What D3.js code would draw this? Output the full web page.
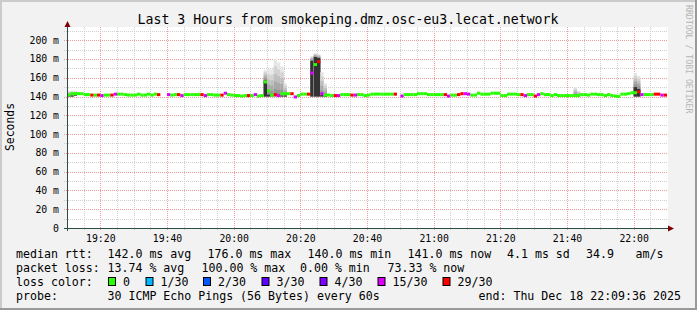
<!DOCTYPE html>
<html>
<head>
<meta charset="utf-8">
<script src="https://cdn.jsdelivr.net/npm/d3@7"></script>
<style>
	body { margin: 0; background: #f2f2f2; }
	svg { display: block; }
	text { font-family: "DejaVu Sans Mono", monospace; fill: #000; }
</style>
</head>
<body>
<svg id="chart" width="697" height="310"></svg>
<script>
// ── Data ──────────────────────────────────────────────────────────────────────
// one sample per minute, 19:10 → 22:10
const medianMs = [
	141.5, 143, 143, 143, 143, 142, 142, 141.5, 141.5, 141.5,
	141, 141.5, 141.5, 141.5, 142.5, 142.5, 142.5, 142, 141.5, 141.5,
	141.5, 142.5, 141.5, 141.5, 142.5, 141.5, 142.5, 142, null, null,
	142, 141.5, 142, 142, 141, 142, 142, 142, 142, 142,
	142, 141, 142, 142, 141.5, 141.5, 141.5, 143.5, 142, 141.5,
	141, 141, 140.5, 141, 141, 141, 142, 140.5, 141, 155.5,
	146, 141.5, 142, 141, 143, 143, 143, 143, 139.5, 141,
	142.5, 142.5, 142.5, 165, 174, 177, 143, 141.5, 141.5, 141,
	141, 141, 142, 142, 142, 141.5, 141.5, 142, 142, 141,
	141.5, 142.5, 142.5, 142.5, 142.5, 142.5, 142.5, 142.5, 142.5, null,
	140.5, 142, 142, 142, 142, 143, 143, 143, 142, 142,
	142, 142, 142, 142, 140.5, 141.5, 141.5, 142, 143, 143,
	142.5, 141.5, 141.5, 143.5, 142.5, 142.5, 142.5, 143.5, 143.5, 143.5,
	141, 141, 142.5, 142.5, 142.5, 142, 142, 141, 142, 142,
	140.5, 142, 143, 142, 142, 141, 142, 141, 141, 141,
	141, 141, 141, 141, 142, 142, 141.5, 142.5, 142.5, 142,
	142, 141, 142, 141, 140.5, 140, 142.5, 142.5, 143, 144,
	144, 145, 142, 142, 142, 142, 142.5, 142.5, 141.5, 141.5
];
const lossCount = [
	0, 0, 0, 0, 0, 0, 0, 29, 0, 29,
	15, 0, 0, 29, 15, 0, 0, 0, 0, 0,
	0, 0, 0, 0, 0, 0, 0, 29, null, null,
	15, 0, 0, 29, 15, 0, 0, 0, 0, 0,
	29, 15, 0, 0, 0, 0, 29, 15, 0, 0,
	0, 0, 0, 0, 29, 0, 15, 0, 0, 0,
	0, 0, 29, 15, 0, 0, 0, 29, 15, 0,
	0, 0, 29, 15, 0, 29, 15, 0, 0, 0,
	29, 15, 0, 0, 0, 29, 15, 0, 0, 0,
	0, 0, 0, 0, 0, 0, 0, 0, 29, null,
	15, 0, 0, 0, 0, 0, 0, 0, 0, 0,
	0, 0, 0, 29, 15, 0, 0, 29, 29, 15,
	15, 0, 0, 0, 0, 0, 0, 0, 0, 0,
	0, 0, 0, 0, 0, 0, 29, 15, 0, 0,
	29, 15, 0, 0, 0, 0, 0, 0, 0, 0,
	0, 0, 0, 0, 0, 0, 0, 0, 0, 0,
	0, 0, 0, 0, 0, 0, 0, 0, 0, 0,
	0, 29, 15, 0, 0, 0, 29, 29, 15, 29
];

// smoke: minute index, lowest ping, top of dense core, highest ping
const smokeStep = [0, 1, 2, 59, 60, 61, 62, 63, 64, 65, 73, 74, 75, 76, 77, 152, 153, 170, 171];
const smokeLo   = [140, 140, 141, 140, 140, 140, 140, 140, 140, 140, 140, 140, 140, 140, 140, 141, 141, 140, 140];
const smokeCore = [141, 141, 142, 157, 142, 140, 140, 140, 141, 141, 178, 182, 181, 142, 141, 141, 141, 150, 148];
const smokeHi   = [146, 146, 146, 168, 169, 169, 180, 176, 172, 154, 183, 186, 185, 166, 154, 150, 146, 165, 162];

const lossSteps  = [0, 1, 2, 3, 4, 15, 29];
const lossLabels = ['0', '1/30', '2/30', '3/30', '4/30', '15/30', '29/30'];
const lossColors = ['#26ff00', '#00b8ff', '#0059ff', '#5e00ff', '#7e00ff', '#dd00ff', '#ff0000'];

const yTicks = [0, 20, 40, 60, 80, 100, 120, 140, 160, 180, 200];

const legendRows = [
	[['median rtt:', 16], ['142.0 ms avg', 107.5], ['176.0 ms max', 207.5], ['140.0 ms min', 307.5],
	 ['141.0 ms now', 407.5], ['4.1 ms sd', 507], ['34.9', 586], ['am/s', 635.5]],
	[['packet loss:', 16], ['13.74 % avg', 107.5], ['100.00 % max', 201.5], ['0.00 % min', 300],
	 ['73.33 % now', 387.5]],
	[['loss color:', 16]],
	[['probe:', 16], ['30 ICMP Echo Pings (56 Bytes) every 60s', 107.5], ['end: Thu Dec 18 22:09:36 2025', 478.5]]
];
const lossSwatchX = [108, 145.5, 203, 261.5, 319.5, 377.5, 442.5];

// ── Layout ────────────────────────────────────────────────────────────────────
const W = 697, H = 310;
const plot = { left: 67, right: 667, top: 27, bottom: 228 };
const start = new Date(2025, 11, 18, 19, 10);
const end   = new Date(2025, 11, 18, 22, 10);
const stepTime = i => d3.timeMinute.offset(start, i);

const x = d3.scaleTime().domain([start, end]).range([plot.left, plot.right]);
const y = d3.scaleLinear().domain([0, 214]).range([plot.bottom, plot.top]);

const svg = d3.select('#chart');

// ── Frame ─────────────────────────────────────────────────────────────────────
svg.append('rect').attr('width', W).attr('height', H).attr('fill', '#f2f2f2');
svg.append('rect').attr('x', 0).attr('y', 0).attr('width', W).attr('height', 2).attr('fill', '#cbcbcb');
svg.append('rect').attr('x', 0).attr('y', 0).attr('width', 2).attr('height', H).attr('fill', '#cbcbcb');
svg.append('rect').attr('x', W - 2).attr('y', 0).attr('width', 2).attr('height', H).attr('fill', '#999');
svg.append('rect').attr('x', 0).attr('y', H - 2).attr('width', W).attr('height', 2).attr('fill', '#999');

svg.append('rect')
	.attr('x', plot.left).attr('y', plot.top)
	.attr('width', plot.right - plot.left + 1).attr('height', plot.bottom - plot.top)
	.attr('fill', '#fff');

// ── Grid ──────────────────────────────────────────────────────────────────────
const gridG = svg.append('g');
const minorX = d3.timeMinute.every(5).range(d3.timeMinute.offset(start, 1), end);
gridG.selectAll('.vgrid').data(minorX).join('line')
	.attr('x1', d => Math.round(x(d)) + 0.5).attr('x2', d => Math.round(x(d)) + 0.5)
	.attr('y1', plot.top).attr('y2', plot.bottom + 3)
	.attr('stroke', d => d.getMinutes() % 20 === 0 ? '#f19c9c' : '#cfcfcf')
	.attr('stroke-dasharray', '1,1');

const minorY = d3.range(10, 211, 10);
gridG.selectAll('.hgrid').data(minorY).join('line')
	.attr('x1', plot.left - 3).attr('x2', plot.right + 1)
	.attr('y1', d => Math.round(y(d)) + 0.5).attr('y2', d => Math.round(y(d)) + 0.5)
	.attr('stroke', d => d % 20 === 0 ? '#f19c9c' : '#cfcfcf')
	.attr('stroke-dasharray', '1,1');

// ── Smoke ─────────────────────────────────────────────────────────────────────
const smokeShades = ['#e6e6e6', '#d2d2d2', '#bebebe', '#a9a9a9', '#959595'];
const smokeG = svg.append('g');
smokeStep.forEach((s, j) => {
	const x0 = x(stepTime(s)), x1 = x(stepTime(s + 1));
	const lo = smokeLo[j], core = smokeCore[j], hi = smokeHi[j];
	smokeShades.forEach((c, k) => {
		const top = hi - (hi - core) * k / smokeShades.length;
		smokeG.append('rect')
			.attr('x', x0).attr('width', x1 - x0)
			.attr('y', y(top)).attr('height', y(lo) - y(top))
			.attr('fill', c);
	});
	if (core > lo) {
		smokeG.append('rect')
			.attr('x', x0).attr('width', x1 - x0)
			.attr('y', y(core)).attr('height', y(lo) - y(core))
			.attr('fill', '#333');
	}
});

// ── Median ────────────────────────────────────────────────────────────────────
const lossColor = n => {
	let c = lossColors[0];
	lossSteps.forEach((t, i) => { if (n >= t) c = lossColors[i]; });
	return c;
};
const medianData = medianMs.map((v, i) => ({ i, v, loss: lossCount[i] })).filter(d => d.v != null);
svg.append('g').selectAll('rect').data(medianData).join('rect')
	.attr('x', d => x(stepTime(d.i)))
	.attr('width', d => x(stepTime(d.i + 1)) - x(stepTime(d.i)))
	.attr('y', d => y(d.v) - 1.5)
	.attr('height', 3)
	.attr('fill', d => lossColor(d.loss));

// ── Axes ──────────────────────────────────────────────────────────────────────
const axisColor = '#2c4d43';
const arrowColor = '#7f0000';
svg.append('line')
	.attr('x1', plot.left - 3).attr('x2', plot.right + 3)
	.attr('y1', plot.bottom + 0.5).attr('y2', plot.bottom + 0.5)
	.attr('stroke', axisColor);
svg.append('line')
	.attr('x1', plot.left + 0.5).attr('x2', plot.left + 0.5)
	.attr('y1', plot.top - 2).attr('y2', plot.bottom + 3)
	.attr('stroke', axisColor);
svg.append('path')
	.attr('d', `M${plot.right + 1},${plot.bottom - 2.5}L${plot.right + 7},${plot.bottom + 0.5}L${plot.right + 1},${plot.bottom + 3.5}Z`)
	.attr('fill', arrowColor);
svg.append('path')
	.attr('d', `M${plot.left - 2.5},${plot.top}L${plot.left + 0.5},${plot.top - 6}L${plot.left + 3.5},${plot.top}Z`)
	.attr('fill', arrowColor);

svg.append('g').selectAll('text').data(yTicks).join('text')
	.attr('x', 59).attr('y', d => y(d) + 3.5)
	.attr('text-anchor', 'end')
	.style('font-size', '9.8px')
	.text(d => d === 0 ? '0' : `${d} m`);

const majorX = d3.timeMinute.every(20).range(start, end);
svg.append('g').selectAll('text').data(majorX).join('text')
	.attr('x', d => x(d) + 0.5).attr('y', 241.5)
	.attr('text-anchor', 'middle')
	.style('font-size', '9.8px')
	.text(d3.timeFormat('%H:%M'));

// ── Titles ────────────────────────────────────────────────────────────────────
svg.append('text')
	.attr('x', 348).attr('y', 24)
	.attr('text-anchor', 'middle')
	.style('font-size', '13.2px')
	.text('Last 3 Hours from smokeping.dmz.osc-eu3.lecat.network');

svg.append('text')
	.attr('transform', 'translate(14,127) rotate(-90)')
	.attr('text-anchor', 'middle')
	.style('font-size', '11.4px')
	.text('Seconds');

svg.append('text')
	.attr('transform', 'translate(686,5) rotate(90)')
	.style('font-size', '8.2px')
	.style('fill', '#b5b5b5')
	.text('RRDTOOL / TOBI OETIKER');

// ── Legend ────────────────────────────────────────────────────────────────────
const rowY = [258, 272, 286, 300];
legendRows.forEach((row, r) => {
	row.forEach(([txt, lx]) => {
		svg.append('text')
			.attr('x', lx).attr('y', rowY[r])
			.style('font-size', '11.6px')
			.style('white-space', 'pre')
			.text(txt);
	});
});

lossLabels.forEach((lbl, i) => {
	svg.append('rect')
		.attr('x', lossSwatchX[i] + 0.5).attr('y', rowY[2] - 8.5)
		.attr('width', 7).attr('height', 8)
		.attr('fill', lossColors[i])
		.attr('stroke', '#000');
	svg.append('text')
		.attr('x', lossSwatchX[i] + 15).attr('y', rowY[2])
		.style('font-size', '11.6px')
		.text(lbl);
});
</script>
</body>
</html>
